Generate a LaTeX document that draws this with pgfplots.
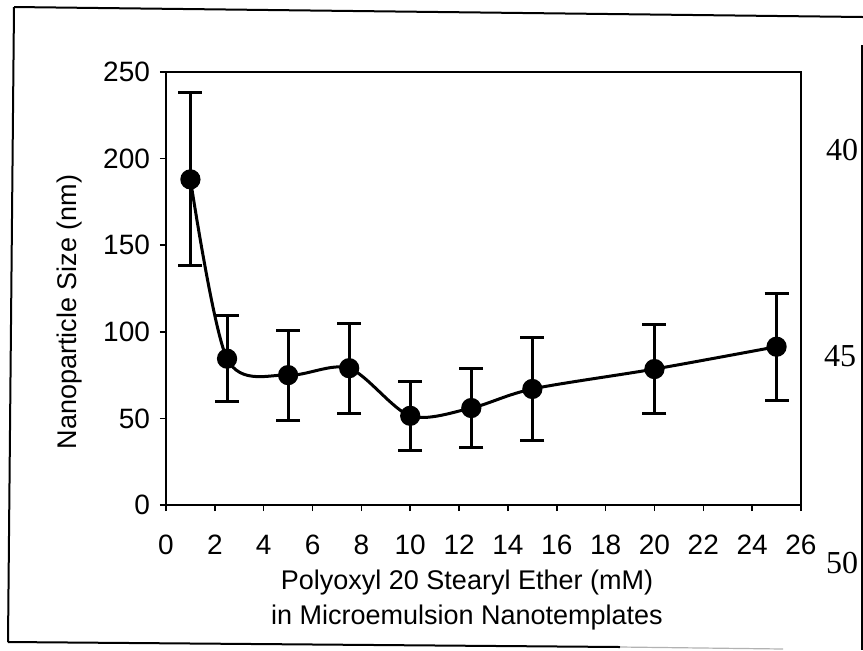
\documentclass[border=0pt]{standalone}
\usepackage{pgfplots}
\pgfplotsset{compat=1.18}
\usepackage{fontspec}
\setmainfont{Liberation Sans}
\newfontfamily\seriffont{Liberation Serif}
\begin{document}
\begin{tikzpicture}
\useasboundingbox (0,0) rectangle (431.5pt,-325pt);
\begin{axis}[
  at={(83pt,-252.5pt)}, anchor=south west,
  scale only axis, width=317.5pt, height=216.5pt,
  xmin=0, xmax=26, ymin=0, ymax=250,
  xtick={0,2,...,26}, ytick={0,50,...,250},
  tick pos=left, tick align=outside,
  major tick length=3pt,
  axis line style={line width=1pt},
  tick style={line width=0.8pt, black},
  font=\fontsize{14}{16}\selectfont,
  /pgf/number format/assume math mode=true,
  xticklabel style={yshift=-8.5pt},
  yticklabel style={xshift=-1.5pt},
  clip=false,
]
\addplot[black, line width=1.5pt, smooth, tension=0.5,
  mark=*, mark size=4.3pt,
  error bars/.cd, y dir=both, y explicit,
  error bar style={line width=1.5pt},
  error mark options={rotate=90, mark size=6pt, line width=1.5pt}]
coordinates {
  (1,188) +- (0,50)
  (2.5,84.5) +- (0,25)
  (5,75) +- (0,26)
  (7.5,79) +- (0,26)
  (10,51.5) +- (0,20)
  (12.5,56) +- (0,23)
  (15,67) +- (0,30)
  (20,78.5) +- (0,25.5)
  (25,91.4) +- (0,31)
};
\end{axis}
\begin{scope}[x=0.5pt,y=-0.5pt]
\draw[line width=1pt] (14,7) -- (863,17);
\draw[line width=1pt] (14,7) -- (8,642);
\draw[line width=1pt] (8,642) -- (620,647);
\draw[line width=0.6pt, gray!60] (620,647) -- (783,649);
\draw[line width=0.8pt] (862,45) -- (862,650);
\node[rotate=90, font=\fontsize{13.5}{16}\selectfont] at (70,312) {Nanoparticle Size (nm)};
\node[align=center, font=\fontsize{13.5}{17.5}\selectfont] at (467,600) {Polyoxyl 20 Stearyl Ether (mM)\\in Microemulsion Nanotemplates};
\node[font=\seriffont\fontsize{16}{18}\selectfont] at (842,150) {40};
\node[font=\seriffont\fontsize{16}{18}\selectfont] at (840,356) {45};
\node[font=\seriffont\fontsize{16}{18}\selectfont] at (842,563) {50};
\end{scope}
\end{tikzpicture}
\end{document}
